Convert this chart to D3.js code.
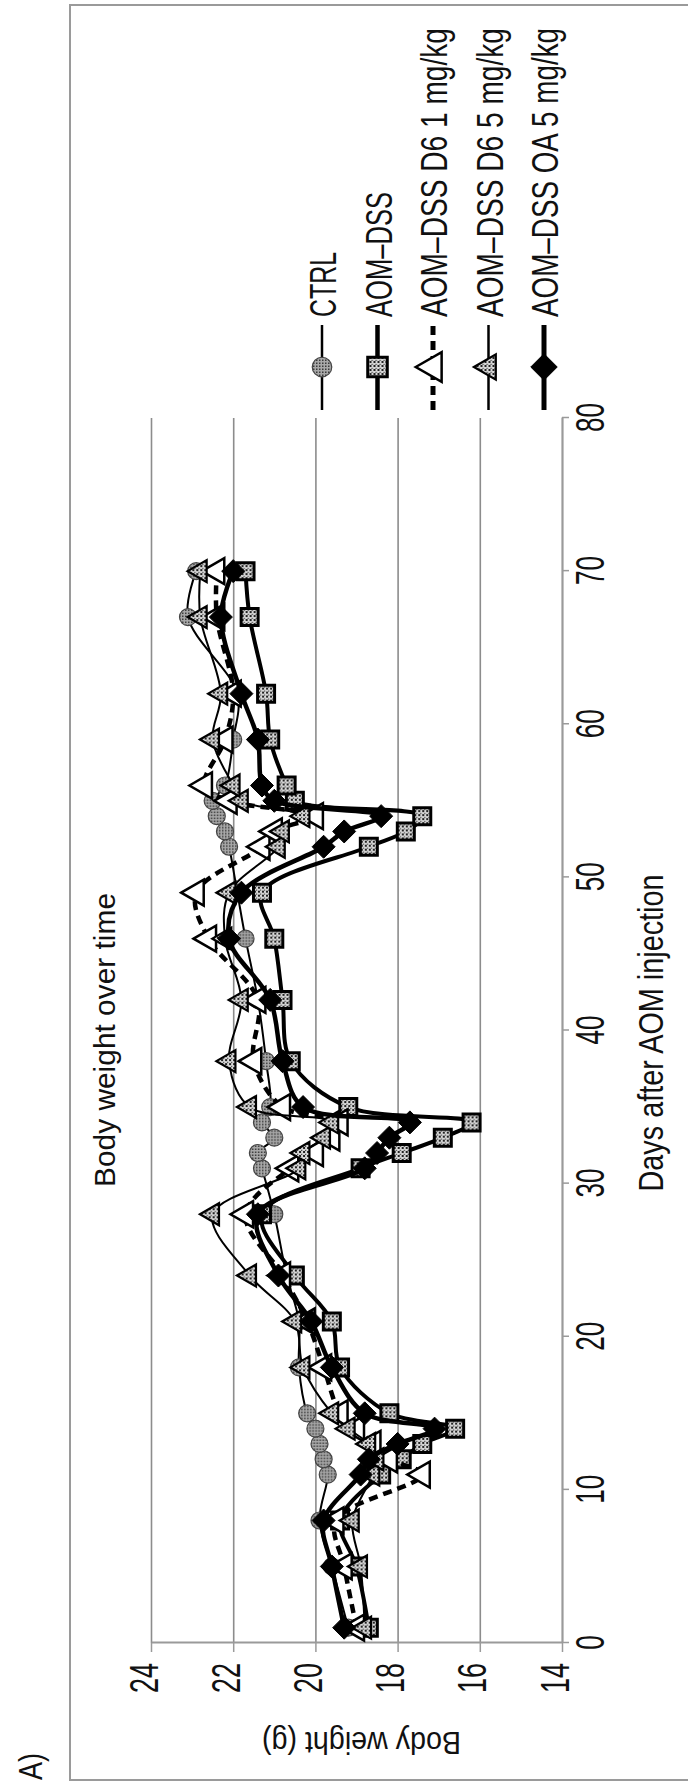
<!DOCTYPE html>
<html>
<head>
<meta charset="utf-8">
<script src="https://cdn.jsdelivr.net/npm/d3@7"></script>
<style>
  html, body { margin: 0; padding: 0; background: #fff; }
  svg { display: block; }
</style>
</head>
<body>
<svg id="chart" width="688" height="1783"></svg>
<script>
// ---- data -------------------------------------------------------------
const days = [1, 5, 8, 11, 12, 13, 14, 15, 18, 21, 24, 28, 31, 32, 33, 34, 35,
              38, 42, 46, 49, 52, 53, 54, 55, 56, 59, 62, 67, 70];

const ctrl   = [19.2, 19.6, 19.9, 19.7, 19.8, 19.9, 20.0, 20.2, 20.4, 20.4, 20.7, 21.0, 21.3, 21.4, 21.0, 21.3, 21.1,
                21.2, 21.4, 21.7, 21.9, 22.1, 22.2, 22.4, 22.5, 22.2, 22.0, 21.9, 23.1, 22.9];
const aomDss = [18.7, 19.0, 19.4, 18.4, 17.9, 17.4, 16.6, 18.2, 19.4, 19.6, 20.5, 21.3, 18.9, 17.9, 16.9, 16.2, 19.2,
                20.6, 20.8, 21.0, 21.3, 18.7, 17.8, 17.4, 20.5, 20.7, 21.1, 21.2, 21.6, 21.7];
const d6Low  = [19.0, 19.3, 19.5, 17.4, 18.2, 18.6, 19.0, 19.4, 19.8, 20.2, 20.8, 21.7, 20.6, 20.0, 19.6, 19.4, 20.8,
                21.5, 21.4, 22.6, 22.9, 21.3, 21.0, 20.0, 22.1, 22.7, 22.2, 22.0, 22.4, 22.4];
const d6High = [18.8, 18.9, 19.1, 18.6, 18.5, 18.7, 19.2, 19.6, 20.3, 20.5, 21.6, 22.5, 20.4, 20.3, 19.8, 19.6, 21.6,
                22.1, 21.8, 22.2, 22.1, 20.9, 20.8, 20.3, 21.8, 22.0, 22.5, 22.3, 22.8, 22.8];
const oaHigh = [19.3, 19.6, 19.8, 18.9, 18.7, 18.0, 17.1, 18.8, 19.6, 20.1, 20.9, 21.4, 18.8, 18.5, 18.2, 17.7, 20.3,
                20.8, 21.1, 22.1, 21.8, 19.8, 19.3, 18.4, 21.0, 21.3, 21.4, 21.8, 22.3, 22.0];

const seriesNames = ["CTRL", "AOM–DSS", "AOM–DSS D6 1 mg/kg", "AOM–DSS D6 5 mg/kg", "AOM–DSS OA 5 mg/kg"];
const dayTicks = [0, 10, 20, 30, 40, 50, 60, 70, 80];
const weightTicks = [14, 16, 18, 20, 22, 24];

const titleText = "Body weight over time";
const xTitle = "Days after AOM injection";
const yTitle = "Body weight (g)";
const panelLabel = "A)";

// ---- drawing styles per series ------------------------------------------
const styles = [
  { values: ctrl,   marker: "circle",   width: 2,   dash: null,  fill: "url(#grayDots)", stroke: "#444", mStroke: 1.2, legendLen: 65 },
  { values: aomDss, marker: "square",   width: 4,   dash: null,  fill: "url(#checks)",   stroke: "#000", mStroke: 3,   legendLen: 125 },
  { values: d6Low,  marker: "triangle", width: 4.5, dash: "9,6", fill: "#fff",           stroke: "#000", mStroke: 2.5, legendLen: 289, big: true },
  { values: d6High, marker: "triangle", width: 2,   dash: null,  fill: "url(#checks)",   stroke: "#000", mStroke: 2.2, legendLen: 289 },
  { values: oaHigh, marker: "diamond",  width: 4.5, dash: null,  fill: "#000",           stroke: "#000", mStroke: 1,   legendLen: 289 }
];

const FONT = "'Liberation Sans', Arial, sans-serif";
const W = 1783; // the chart is laid out landscape and turned a quarter turn

const svg = d3.select("#chart");

// fill textures for the markers
const defs = svg.append("defs");
const gd = defs.append("pattern").attr("id", "grayDots").attr("width", 3).attr("height", 3)
  .attr("patternUnits", "userSpaceOnUse");
gd.append("rect").attr("width", 3).attr("height", 3).attr("fill", "#a8a8a8");
gd.append("rect").attr("width", 1.5).attr("height", 1.5).attr("fill", "#3a3a3a");
const ck = defs.append("pattern").attr("id", "checks").attr("width", 4).attr("height", 4)
  .attr("patternUnits", "userSpaceOnUse");
ck.append("rect").attr("width", 4).attr("height", 4).attr("fill", "#d8d8d8");
ck.append("rect").attr("width", 2).attr("height", 2).attr("fill", "#222");
ck.append("rect").attr("x", 2).attr("y", 2).attr("width", 1.2).attr("height", 1.2).attr("fill", "#444");

const root = svg.append("g").attr("transform", `translate(0,${W}) rotate(-90)`)
  .attr("font-family", FONT);

// outer frame
root.append("rect").attr("x", 3).attr("y", 70).attr("width", 1775).attr("height", 700)
  .attr("fill", "none").attr("stroke", "#9a9a9a").attr("stroke-width", 2);

root.append("text").attr("x", 3).attr("y", 42).attr("font-size", 34).attr("fill", "#111")
  .attr("textLength", 27).attr("lengthAdjust", "spacingAndGlyphs").text(panelLabel);

// scales
const x = d3.scaleLinear().domain([0, 80]).range([140, 1365]);
const y = d3.scaleLinear().domain([14, 24]).range([562, 151]);

// horizontal gridlines
root.append("g")
  .attr("transform", `translate(${x(0)},0)`)
  .call(d3.axisLeft(y).tickValues(weightTicks.filter(v => v > 14))
    .tickSize(-(x(80) - x(0))).tickFormat(""))
  .call(g => g.select(".domain").remove())
  .call(g => g.selectAll(".tick line").attr("stroke", "#8c8c8c").attr("stroke-width", 1.6));

// days axis (tall, narrow digits)
const xAxis = root.append("g")
  .attr("transform", `translate(0,${y(14)})`)
  .call(d3.axisBottom(x).tickValues(dayTicks).tickSize(7).tickSizeOuter(0));
xAxis.attr("font-family", FONT);
xAxis.select(".domain").attr("stroke", "#9a9a9a").attr("stroke-width", 2.2);
xAxis.selectAll(".tick line").attr("stroke", "#9a9a9a").attr("stroke-width", 1.5);
xAxis.selectAll(".tick text")
  .attr("x", 0).attr("y", 0).attr("dy", null)
  .attr("transform", "translate(0,42) scale(1,1.5)")
  .attr("font-size", 27).attr("fill", "#111")
  .attr("textLength", d => String(d).length * 14.5).attr("lengthAdjust", "spacingAndGlyphs");

// weight axis
const yAxis = root.append("g")
  .attr("transform", `translate(${x(0)},0)`)
  .call(d3.axisLeft(y).tickValues(weightTicks).tickSize(9).tickSizeOuter(0));
yAxis.attr("font-family", FONT);
yAxis.select(".domain").attr("stroke", "#9a9a9a").attr("stroke-width", 2.2);
yAxis.selectAll(".tick line").attr("stroke", "#9a9a9a").attr("stroke-width", 1.5);
yAxis.selectAll(".tick text")
  .attr("x", 0).attr("y", 0).attr("dy", null)
  .attr("transform", "translate(-20,6) scale(1,1.5)")
  .attr("font-size", 27).attr("fill", "#111")
  .attr("textLength", d => String(d).length * 15).attr("lengthAdjust", "spacingAndGlyphs");

// titles
root.append("text").attr("x", 743).attr("y", 115).attr("text-anchor", "middle")
  .attr("font-size", 30).attr("fill", "#111")
  .attr("textLength", 294).attr("lengthAdjust", "spacingAndGlyphs").text(titleText);

root.append("text").attr("transform", "translate(750,663) scale(1,1.22)")
  .attr("text-anchor", "middle").attr("font-size", 28.7).attr("fill", "#111")
  .attr("textLength", 317).attr("lengthAdjust", "spacingAndGlyphs").text(xTitle);

root.append("text")
  .attr("transform", `translate(51,${(y(14) + y(24)) / 2 + 5}) rotate(-90) scale(1,1.29)`)
  .attr("text-anchor", "middle").attr("font-size", 25).attr("fill", "#111")
  .attr("textLength", 199).attr("lengthAdjust", "spacingAndGlyphs").text(yTitle);

// marker shapes
function markerPath(kind, big, scale) {
  const k = scale || 1;
  if (kind === "circle") return d3.symbol(d3.symbolCircle, Math.PI * Math.pow(8.5 * k, 2))();
  if (kind === "square") return d3.symbol(d3.symbolSquare, Math.pow(17 * k, 2))();
  if (kind === "triangle") {
    const side = (big ? 26 : 22) * k;
    return d3.symbol(d3.symbolTriangle, side * side * Math.sqrt(3) / 4)();
  }
  const r = 11.5 * k;
  return `M0,${-r}L${r},0L0,${r}L${-r},0Z`;
}

// series: line then markers
const line = d3.line()
  .x((d, i) => x(days[i]))
  .y(d => y(d))
  .curve(d3.curveCatmullRom.alpha(0.5));

styles.forEach((s, si) => {
  const g = root.append("g").attr("class", "series-" + si);
  g.append("path")
    .attr("d", line(s.values))
    .attr("fill", "none")
    .attr("stroke", "#000")
    .attr("stroke-width", s.width)
    .attr("stroke-dasharray", s.dash)
    .attr("stroke-linejoin", "round");
  g.selectAll("path.mark")
    .data(s.values)
    .join("path")
    .attr("class", "mark")
    .attr("transform", (d, i) => `translate(${x(days[i])},${y(d)})`)
    .attr("d", markerPath(s.marker, s.big))
    .attr("fill", s.fill)
    .attr("stroke", s.stroke)
    .attr("stroke-width", s.mStroke);
});

// legend to the right of the plot
const legend = root.append("g").attr("transform", "translate(1373,0)");
seriesNames.forEach((name, i) => {
  const s = styles[i];
  const cy = 322 + i * 55.5;
  const item = legend.append("g").attr("transform", `translate(0,${cy})`);
  item.append("line").attr("x1", 0).attr("x2", 85).attr("y1", 0).attr("y2", 0)
    .attr("stroke", "#000").attr("stroke-width", s.width + 0.5)
    .attr("stroke-dasharray", s.dash);
  item.append("path").attr("transform", "translate(43,0)")
    .attr("d", markerPath(s.marker, s.big, 1.15))
    .attr("fill", s.fill).attr("stroke", s.stroke).attr("stroke-width", s.mStroke);
  item.append("text").attr("transform", "translate(93,14) scale(1,1.3)")
    .attr("font-size", 28).attr("fill", "#111")
    .attr("textLength", s.legendLen).attr("lengthAdjust", "spacingAndGlyphs")
    .text(name);
});
</script>
</body>
</html>
